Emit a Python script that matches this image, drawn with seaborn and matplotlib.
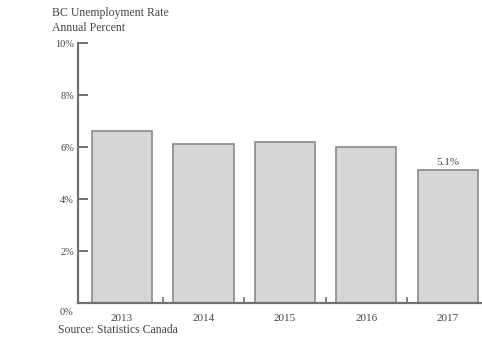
import matplotlib
matplotlib.use("Agg")
import matplotlib.pyplot as plt
import seaborn as sns
import pandas as pd
from matplotlib.ticker import FixedLocator

years = ["2013", "2014", "2015", "2016", "2017"]
rates = [6.6, 6.1, 6.2, 6.0, 5.1]
ytick_vals = [0, 2, 4, 6, 8, 10]
ytick_labels = ["0%", "2%", "4%", "6%", "8%", "10%"]

df = pd.DataFrame({"year": years, "rate": rates})

sns.set_style("white")
plt.rcParams["font.family"] = ["Liberation Serif", "DejaVu Serif"]
txt = "#444444"
axc = "#707070"

fig = plt.figure(figsize=(4.82, 3.39), dpi=100)
ax = fig.add_axes([0.162, 0.106, 0.838, 0.767])

sns.barplot(data=df, x="year", y="rate", color="#d6d6d6", edgecolor="#8a8a8a",
            linewidth=1.2, width=0.74, saturation=1, ax=ax)

ax.set_ylim(0, 10)
ax.set_xlim(-0.54, 4.42)
ax.set_yticks(ytick_vals)
ax.set_yticklabels(ytick_labels)
ax.set_xlabel("")
ax.set_ylabel("")

for s in ["top", "right"]:
    ax.spines[s].set_visible(False)
for s in ["left", "bottom"]:
    ax.spines[s].set_color(axc)
    ax.spines[s].set_linewidth(1.6)

ax.tick_params(axis="y", left=True, direction="in", length=7, width=1.4, color=axc,
               labelsize=7.5, labelcolor=txt, pad=3)
ax.tick_params(axis="x", which="major", bottom=False, length=0, labelsize=8,
               labelcolor=txt, pad=8)
ax.xaxis.set_minor_locator(FixedLocator([0.5, 1.5, 2.5, 3.5]))
ax.tick_params(axis="x", which="minor", bottom=True, direction="in", length=4,
               width=1.2, color=axc)

# 0% sits a bit below the axis in the original
ax.get_yticklabels()[0].set_visible(False)
ax.text(-0.6, -0.35, "0%", ha="right", va="center", fontsize=7.5, color=txt)

ax.text(4, rates[-1] + 0.15, "5.1%", ha="center", va="bottom", fontsize=8, color=txt)

fig.text(52 / 482, 1 - 13 / 339, "BC Unemployment Rate", fontsize=8.5, color=txt, va="center")
fig.text(52 / 482, 1 - 28 / 339, "Annual Percent", fontsize=8.5, color=txt, va="center")
fig.text(58 / 482, 1 - 330 / 339, "Source: Statistics Canada", fontsize=8.5, color=txt, va="center")

fig.savefig("out.png", dpi=100)
